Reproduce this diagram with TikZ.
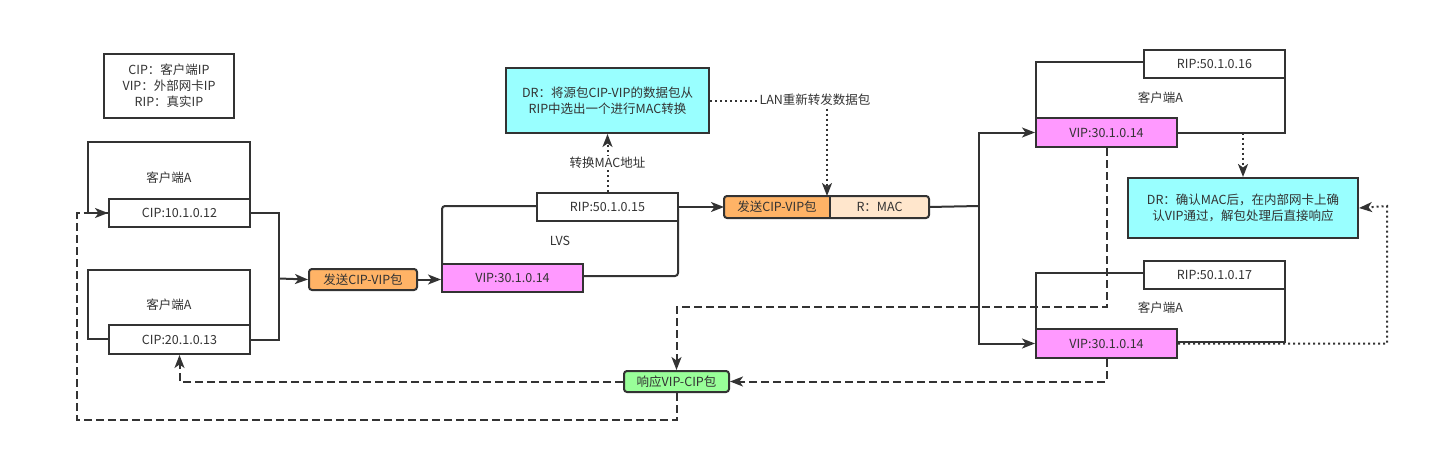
\documentclass[tikz,border=0pt]{standalone}
\usepackage{fontspec}
\setmainfont{Noto Sans CJK SC}
\usepackage{xcolor}
\usetikzlibrary{positioning,arrows.meta,backgrounds}
\definecolor{linegray}{HTML}{333333}
\definecolor{textgray}{HTML}{333333}
\definecolor{sendfill}{HTML}{FFB366}
\definecolor{macfill}{HTML}{FFE6CC}
\definecolor{drfill}{HTML}{99FFFF}
\definecolor{vipfill}{HTML}{FF99FF}
\definecolor{respfill}{HTML}{99FF99}
\tikzset{
    boxline/.style={draw=linegray, line width=2pt},
    frame/.style={
        rectangle, boxline, anchor=north west,
        inner sep=0pt, align=center,
        font=\fontsize{12.5}{16}\selectfont, text=textgray
    },
    ipbox/.style={
        rectangle, boxline, fill=white, anchor=north west,
        minimum width=141pt, minimum height=28pt, inner sep=0pt,
        font=\fontsize{12.5}{16}\selectfont, text=textgray
    },
    vipbox/.style={ipbox, fill=vipfill, minimum height=29pt},
    drbox/.style={
        rectangle, boxline, fill=drfill, anchor=north west,
        inner sep=0pt, align=center,
        font=\fontsize{12.5}{16.5}\selectfont, text=textgray
    },
    pkt/.style={
        rectangle, rounded corners=3pt, boxline, anchor=north west,
        minimum height=21pt, inner sep=0pt,
        font=\fontsize{12.5}{16}\selectfont, text=textgray
    },
    lbl/.style={font=\fontsize{12.5}{16}\selectfont, text=textgray, inner sep=1pt},
    flow/.style={draw=linegray, line width=2pt, -{Stealth[length=13pt,width=10pt,inset=3.5pt]}},
    plain/.style={draw=linegray, line width=2pt},
    back/.style={flow, dash pattern=on 8pt off 4pt},
    hint/.style={flow, dash pattern=on 2pt off 3pt}
}
\begin{document}
\begin{tikzpicture}[x=1pt, y=-1pt]
    \useasboundingbox (0,0) rectangle (1447,471);

    % Legend
    \node[frame, minimum width=130pt, minimum height=64pt] (legend) at (103,53)
        {CIP：客户端IP\\VIP：外部网卡IP\\RIP：真实IP};

    % Clients
    \node[frame, minimum width=162pt, minimum height=71pt] (fa1) at (87,141) {客户端A};
    \node[ipbox] (cip1) at (108,198) {CIP:10.1.0.12};
    \node[frame, minimum width=162pt, minimum height=69pt] (fa2) at (87,269) {客户端A};
    \node[ipbox, minimum height=29pt] (cip2) at (108,324) {CIP:20.1.0.13};
    \coordinate (j1) at (279,278.5);
    \node[pkt, fill=sendfill, minimum width=108pt] (send1) at (308,268) {发送CIP-VIP包};

    % LVS
    \node[frame, rounded corners=3pt, minimum width=236pt, minimum height=70pt] (lvs) at (441,205) {LVS};
    \node[ipbox] (rip15) at (536,192) {RIP:50.1.0.15};
    \node[ipbox, fill=vipfill] (vip14) at (441,263) {VIP:30.1.0.14};
    \node[drbox, minimum width=203pt, minimum height=65pt] (drL) at (505,67)
        {DR：将源包CIP-VIP的数据包从\\RIP中选出一个进行MAC转换};

    % Forwarded packet
    \node[pkt, draw=none, minimum width=104pt, minimum height=20pt] (send2) at (724,196) {发送CIP-VIP包};
    \node[pkt, draw=none, minimum width=97pt, minimum height=20pt, right=0pt of send2] (rmac) {R：MAC};
    \begin{scope}[on background layer]
        \fill[macfill, rounded corners=3pt] (send2.south west) rectangle (rmac.north east);
        \fill[sendfill, rounded corners=3pt] (send2.south west) rectangle (send2.north east);
        \fill[sendfill] ([xshift=-4pt]send2.south east) rectangle (send2.north east);
    \end{scope}
    \draw[plain, rounded corners=3pt] (send2.south west) rectangle (rmac.north east);
    \draw[plain] (send2.north east) -- (send2.south east);
    \coordinate (lanx) at ([xshift=-3pt]send2.north east);
    \coordinate (j2) at (979,206);

    % Real servers
    \node[frame, minimum width=249pt, minimum height=71pt] (fr1) at (1035,61) {客户端A};
    \node[ipbox] (rip16) at (1143,49) {RIP:50.1.0.16};
    \node[vipbox] (vipr1) at (1035,117) {VIP:30.1.0.14};
    \node[frame, minimum width=249pt, minimum height=69pt] (fr2) at (1035,272) {客户端A};
    \node[ipbox] (rip17) at (1143,260) {RIP:50.1.0.17};
    \node[vipbox] (vipr2) at (1035,328) {VIP:30.1.0.14};
    \node[drbox, minimum width=230pt, minimum height=60pt] (drR) at (1127,177)
        {DR：确认MAC后，在内部网卡上确\\认VIP通过，解包处理后直接响应};
    \coordinate (rback) at (1387,206);

    % Response
    \node[pkt, fill=respfill, minimum width=105pt] (resp) at (623,370) {响应VIP-CIP包};
    \coordinate (dy) at (0,307);
    \coordinate (lowl) at (77,420);

    % Arrows
    \draw[plain] (cip1.east) -| (j1);
    \draw[plain] (cip2.east) -| (j1);
    \draw[flow] (j1) -- (send1.west);
    \draw[flow] (send1.east) -- (send1.east -| vip14.west);
    \draw[flow] (rip15.east) -- (send2.west);
    \draw[hint] (rip15.north) -- node[lbl, fill=white] {转换MAC地址} (drL.south);
    \draw[hint] (drL.east) -| (lanx);
    \node[lbl, fill=white] (lan) at (815,100) {LAN重新转发数据包};

    \draw[plain] (rmac.east) -- (j2);
    \draw[flow] (j2) |- (vipr1.west);
    \draw[flow] (j2) |- (vipr2.west);
    \draw[hint] (vipr1.east) -| (drR.north);
    \draw[hint] (vipr2.east) -| (rback) -- (drR.east);

    \draw[back] (vipr1.south) -- (vipr1.south |- dy) -| (resp.north);
    \draw[back] (vipr2.south) |- (resp.east);
    \draw[back] (resp.west) -| (cip2.south);
    \draw[back] (resp.south) |- (lowl) |- (cip1.west);

\end{tikzpicture}
\end{document}
